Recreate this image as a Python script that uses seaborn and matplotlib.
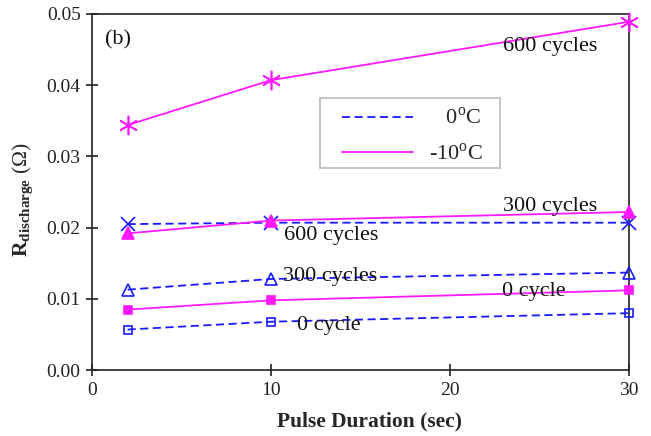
import matplotlib
matplotlib.use("Agg")
import matplotlib.pyplot as plt
from matplotlib.lines import Line2D
from matplotlib.patches import Rectangle
import seaborn as sns
import pandas as pd

sns.set_style("ticks")
plt.rcParams['font.family'] = ['Liberation Serif', 'DejaVu Serif']
plt.rcParams['mathtext.fontset'] = 'custom'
plt.rcParams['mathtext.rm'] = 'Liberation Serif'
plt.rcParams['mathtext.bf'] = 'Liberation Serif:bold'

pulse = [2, 10, 30]

# 0 C (blue, dashed)
c0_0cyc = [0.0057, 0.0068, 0.0080]
c0_300cyc = [0.0113, 0.0128, 0.0137]
c0_600cyc = [0.0205, 0.0207, 0.0207]

# -10 C (magenta, solid)
m10_0cyc = [0.0085, 0.0098, 0.0112]
m10_300cyc = [0.0192, 0.0210, 0.0222]
m10_600cyc = [0.0344, 0.0407, 0.0489]

blue = '#1a1aff'
pink = '#ff19ff'
dash = (0, (4.5, 2.5))

fig = plt.figure(figsize=(6.51, 4.36), dpi=100)
ax = fig.add_axes([0.141, 0.151, 0.825, 0.817])

series = [
    (c0_0cyc, blue, dash, 's', 'none', 6),
    (c0_300cyc, blue, dash, '^', 'none', 9),
    (c0_600cyc, blue, dash, 'x', blue, 10),
    (m10_0cyc, pink, '-', 's', pink, 6),
    (m10_300cyc, pink, '-', '^', pink, 8),
    (m10_600cyc, pink, '-', (6, 2, 0), pink, 14),
]
for vals, col, ls, mk, mfc, ms in series:
    df = pd.DataFrame({'t': pulse, 'r': vals})
    sns.lineplot(data=df, x='t', y='r', ax=ax, color=col, linestyle=ls,
                 marker=mk, markerfacecolor=mfc, markeredgecolor=col,
                 markersize=ms, markeredgewidth=1.2, linewidth=1.3,
                 clip_on=False, zorder=3)

ax.set_xlim(0, 30)
ax.set_ylim(0, 0.05)
ax.set_xticks([0, 10, 20, 30])
ax.set_yticks([0, 0.01, 0.02, 0.03, 0.04, 0.05])
ax.set_yticklabels(['0.00', '0.01', '0.02', '0.03', '0.04', '0.05'])
ax.tick_params(direction='inout', length=9, width=1.2, labelsize=14, colors='#222222')
ax.tick_params(axis='x', pad=4)
for s in ax.spines.values():
    s.set_linewidth(1.2)
    s.set_color('#222222')
    s.set_visible(True)

ax.set_xlabel('Pulse Duration (sec)', fontsize=15.5, fontweight='bold')
ax.xaxis.set_label_coords(0.518, -0.116)
ax.set_ylabel(r'$\mathbf{R}_{\mathbf{discharge}}$ $(\Omega)$', fontsize=15.5)
ax.yaxis.set_label_coords(-0.104, 0.478)

txt = dict(fontsize=16, color='#111111', ha='center', va='center')
ax.text(1.45, 0.0463, '(b)', **txt)
ax.text(25.6, 0.0455, '600 cycles', **txt)
ax.text(25.6, 0.0230, '300 cycles', **txt)
ax.text(13.4, 0.0189, '600 cycles', **txt)
ax.text(13.3, 0.0131, '300 cycles', **txt)
ax.text(24.7, 0.0111, '0 cycle', **txt)
ax.text(13.25, 0.0063, '0 cycle', **txt)

# legend frame drawn separately so the padding matches the reference
ax.add_patch(Rectangle((0.4246, 0.567), 0.335, 0.197, transform=ax.transAxes,
                       facecolor='white', edgecolor='#bbbbbb', linewidth=1.2, zorder=4))
handles = [Line2D([], [], color=blue, linestyle=dash, linewidth=1.3),
           Line2D([], [], color=pink, linestyle='-', linewidth=1.3)]
leg = ax.legend(handles, [r'   0$^{\rm o}$C ', r'-10$^{\rm o}$C '],
                loc='upper left', bbox_to_anchor=(0.447, 0.764), borderaxespad=0,
                fontsize=16, frameon=False, handlelength=3.2,
                borderpad=0.45, labelspacing=0.62, handletextpad=0.7)
leg.set_zorder(5)

fig.savefig('out.png', dpi=100)
